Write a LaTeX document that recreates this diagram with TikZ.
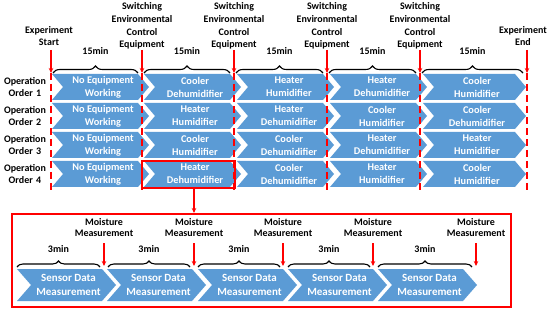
\documentclass[tikz,border=0pt]{standalone}
\usepackage{fontspec}
\setmainfont{Carlito}
\usetikzlibrary{arrows.meta,decorations.pathreplacing,calc}
\definecolor{chevblue}{RGB}{91,155,213}
\definecolor{mred}{RGB}{255,0,0}
\tikzset{
 lbl/.style={font=\bfseries\fontsize{10}{12.7}\selectfont, align=center, inner sep=0pt},
 lblb/.style={font=\bfseries\fontsize{10}{11.5}\selectfont, align=center, inner sep=0pt},
 chevtxt/.style={font=\bfseries\fontsize{10.3}{13}\selectfont, align=center, text=white, inner sep=0pt},
 chevtxtb/.style={font=\bfseries\fontsize{11}{14}\selectfont, align=center, text=white, inner sep=0pt},
 redarrow/.style={draw=mred, line width=1.3pt, -{Stealth[length=5pt,width=4.5pt]}},
 reddash/.style={draw=mred, line width=2pt, dash pattern=on 7pt off 4pt},
 bracetop/.style={draw=black, decorate, decoration={brace, amplitude=7pt}, line width=1.1pt},
 braceb/.style={draw=black, decorate, decoration={brace, amplitude=6pt}, line width=1.1pt},
 redbox/.style={draw=mred, line width=2pt, inner sep=0pt, fill=none},
}
\newcommand\mychev[5]{%
 \fill[chevblue] (#1,#3) -- (#2,#3) -- ({#2+#5},{#3+#4/2}) -- (#2,{#3+#4}) -- (#1,{#3+#4}) -- ({#1+#5},{#3+#4/2}) -- cycle;}
\begin{document}
\begin{tikzpicture}[x=1pt,y=-1pt]
\useasboundingbox (0,0) rectangle (550,313);
% ---------- top chevrons
\foreach \yt in {74,103,132,161}{
 \foreach \xl/\xr in {52/138,144/230,237/323,330/416,423/515}{
  \mychev{\xl}{\xr}{\yt}{26}{11}
 }
}
% row labels
\node[lbl, text width=50pt] (op1) at (25,87) {Operation\\Order 1};
\node[lbl, text width=50pt] (op2) at (25,116) {Operation\\Order 2};
\node[lbl, text width=50pt] (op3) at (25,145) {Operation\\Order 3};
\node[lbl, text width=50pt] (op4) at (25,174) {Operation\\Order 4};
% chevron texts row 1
\node[chevtxt] (r1c1) at (103,87) {No Equipment\\Working};
\node[chevtxt] (r1c2) at (195,87) {Cooler\\Dehumidifier};
\node[chevtxt] (r1c3) at (289,87) {Heater\\Humidifier};
\node[chevtxt] (r1c4) at (382,87) {Heater\\Dehumidifier};
\node[chevtxt] (r1c5) at (477,87) {Cooler\\Humidifier};
% row 2
\node[chevtxt] (r2c1) at (103,116) {No Equipment\\Working};
\node[chevtxt] (r2c2) at (195,116) {Heater\\Humidifier};
\node[chevtxt] (r2c3) at (289,116) {Heater\\Dehumidifier};
\node[chevtxt] (r2c4) at (382,116) {Cooler\\Humidifier};
\node[chevtxt] (r2c5) at (477,116) {Cooler\\Dehumidifier};
% row 3
\node[chevtxt] (r3c1) at (103,145) {No Equipment\\Working};
\node[chevtxt] (r3c2) at (195,145) {Cooler\\Humidifier};
\node[chevtxt] (r3c3) at (289,145) {Cooler\\Dehumidifier};
\node[chevtxt] (r3c4) at (382,145) {Heater\\Dehumidifier};
\node[chevtxt] (r3c5) at (477,145) {Heater\\Humidifier};
% row 4
\node[chevtxt] (r4c1) at (103,174) {No Equipment\\Working};
\node[chevtxt] (r4c2) at (195,174) {Heater\\Dehumidifier};
\node[chevtxt] (r4c3) at (289,174) {Cooler\\Dehumidifier};
\node[chevtxt] (r4c4) at (382,174) {Heater\\Humidifier};
\node[chevtxt] (r4c5) at (477,174) {Cooler\\Humidifier};
% top labels
\node[lbl] (start) at (49,36) {Experiment\\Start};
\node[lbl] (sw1) at (142,26) {Switching\\Environmental\\Control\\Equipment};
\node[lbl] (sw2) at (234,26) {Switching\\Environmental\\Control\\Equipment};
\node[lbl] (sw3) at (327,26) {Switching\\Environmental\\Control\\Equipment};
\node[lbl] (sw4) at (420,26) {Switching\\Environmental\\Control\\Equipment};
\node[lbl] (end) at (523,36) {Experiment\\End};
% dashed lines and arrows
\foreach \n/\x in {start/51,sw1/142,sw2/234,sw3/327,sw4/420,end/527}{
 \coordinate (t\n) at (\x,50);
 \coordinate (a\n) at (\x,73);
 \coordinate (b\n) at (\x,190);
 \draw[reddash] (a\n) -- (b\n);
 \draw[redarrow] (t\n) -- (a\n);
}
% braces top
\foreach \i/\xa/\xb in {1/53/138,2/144/230,3/236/323,4/329/416,5/422/523}{
 \coordinate (bl\i) at (\xa,73);
 \coordinate (br\i) at (\xb,73);
 \draw[bracetop] (bl\i) -- (br\i);
 \node[lbl] (m\i) at ({(\xa+\xb)/2},51) {15min};
}
% red box & link
\node[redbox, minimum width=93pt, minimum height=27pt] (rbox) at (188.5,174.5) {};
\node[redbox, minimum width=499pt, minimum height=93pt] (bbox) at (261.5,260.5) {};
\coordinate (lnk) at (194,0);
\draw[redarrow] (rbox.south -| lnk) -- (bbox.north -| lnk);
% bottom chevrons
\foreach \i/\xl/\xr in {1/17/102,2/107/192,3/198/283,4/288/373,5/378/463}{
 \mychev{\xl}{\xr}{269}{32}{14}
 \node[chevtxtb] (s\i) at ({(\xl+\xr+14)/2+2},285) {Sensor Data\\Measurement};
}
% moisture arrows
\foreach \i/\x in {1/104,2/194,3/283,4/373,5/476}{
 \node[lblb] (mm\i) at (\x,227.5) {Moisture\\Measurement};
 \coordinate (mt\i) at (\x,243);
 \coordinate (mb\i) at (\x,266);
 \draw[redarrow] (mt\i) -- (mb\i);
}
% bottom braces
\foreach \i/\xa/\xb in {1/17/100,2/108/190,3/198/280,4/288/370,5/378/472}{
 \coordinate (cl\i) at (\xa,267);
 \coordinate (cr\i) at (\xb,267);
 \draw[braceb] (cl\i) -- (cr\i);
 \node[lbl] (tm\i) at ({(\xa+\xb)/2},249) {3min};
}
\end{tikzpicture}
\end{document}
